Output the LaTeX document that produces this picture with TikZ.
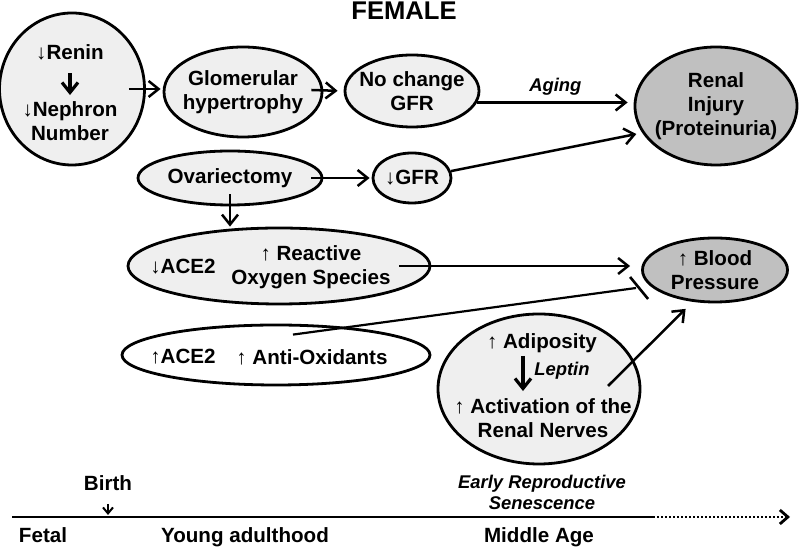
\documentclass[tikz,border=0pt]{standalone}
\usepackage{fontspec}
\setmainfont{Liberation Sans}
\usetikzlibrary{arrows.meta,shapes.geometric,calc}
\definecolor{lightfill}{HTML}{EFEFEF}
\definecolor{darkfill}{HTML}{C0C0C0}
\tikzset{every node/.style={font=\bfseries\fontsize{10.3}{12}\selectfont, align=center, inner sep=0pt},
  bubble/.style={ellipse, draw, line width=1.4pt, fill=lightfill, inner sep=0pt},
  darkbubble/.style={bubble, fill=darkfill},
  note/.style={font=\bfseries\itshape\fontsize{9.2}{10.5}\selectfont},
  stage/.style={anchor=base},
  link/.style={line width=1.25pt, -{Straight Barb[length=5pt,width=8pt]}},
  bigdown/.style={line width=1.6pt, -{Straight Barb[length=5pt,width=8pt]}},
  smalldown/.style={line width=1pt, -{Straight Barb[length=3pt,width=5pt]}},
  timeline/.style={line width=1.4pt}}

\begin{document}
\begin{tikzpicture}[x=0.5pt,y=-0.5pt]
  \useasboundingbox (0,0) rectangle (800,549);
  \node[font=\bfseries\fontsize{12.8}{14}\selectfont] (title) at (404,11) {FEMALE};

  \node[bubble, minimum width=72.5pt, minimum height=76pt] (dev) at (72,89) {};
  \node (renin) at (70,52) {↓Renin};
  \node (nephron) at (70,121) {↓Nephron\\Number};
  \draw[bigdown, shorten <=6.5pt, shorten >=3pt] (renin) -- (nephron);

  \node[bubble, minimum width=79pt, minimum height=45pt, inner xsep=-3pt] (glom) at (243,92) {Glomerular\\hypertrophy};
  \node[bubble, minimum width=67pt, minimum height=36pt, inner xsep=-4pt] (nochange) at (412,91) {No change\\GFR};
  \node[darkbubble, minimum width=81pt, minimum height=59pt, inner xsep=-3pt] (renal) at (716,106) {Renal\\Injury\\(Proteinuria)};
  \node[bubble, minimum width=92pt, minimum height=27pt] (ovx) at (230,178) {Ovariectomy};
  \node[bubble, minimum width=39pt, minimum height=25pt] (gfr) at (412,178) {↓GFR};

  \draw[link, shorten >=1pt] ($(dev.east)+(-17,0)$) -- (dev.east -| glom.west);
  \draw[link, shorten >=3pt] ($(glom.east)+(-12,-2)$) -- (nochange.west);
  \draw[link, shorten >=3pt] (nochange.-10) -- (nochange.-10 -| renal.west)
    node[note, midway, above=3pt] (aging) {Aging};
  \draw[link, shorten >=3pt] (gfr.10) -- (renal.200);
  \draw[link, shorten >=1pt] ($(ovx.east)+(-12,0)$) -- (gfr.west);

  \node[bubble, minimum width=151pt, minimum height=38pt] (ros) at (279,266) {};
  \node (aceloss) at (183,267) {↓ACE2};
  \node (oxy) at (311,267) {↑ Reactive\\Oxygen Species};
  \draw[link] ($(ovx.south)+(0,-12)$) -- (ovx.south |- ros.north);

  \node[bubble, fill=white, minimum width=154pt, minimum height=30pt] (anti) at (276,355) {};
  \node (acegain) at (183,357) {↑ACE2};
  \node (antiox) at (312,357) {↑ Anti-Oxidants};

  \node[darkbubble, minimum width=72.5pt, minimum height=32pt] (bp) at (715,270) {↑ Blood\\Pressure};
  \draw[link, shorten >=5.5pt] ($(ros.east)+(-32,0)$) -- (ros.east -| bp.west);

  \coordinate (tee) at ($(bp.west)+(-5,18)$);
  \draw[line width=1.1pt] ($(anti.north)+(17,11)$) -- (tee);
  \draw[line width=1.3pt] ($(tee)+(-6,-11)$) -- ($(tee)+(12,11)$);

  \node[bubble, minimum width=101pt, minimum height=75pt] (adip) at (539,389) {};
  \node (adipos) at (542,343) {↑ Adiposity};
  \node[note] (leptin) at (562,371) {Leptin};
  \node (nerves) at (543,418) {↑ Activation of the\\Renal Nerves};
  \draw[bigdown] ($(adipos.south)+(-19,3)$) -- ($(nerves.north)+(-20,-7)$);
  \draw[link, shorten >=5pt] ($(adip.center)+(69,-3)$) -- (bp.235);

  \coordinate (t0) at (12,517);
  \coordinate (t1) at (653,517);
  \coordinate (t2) at (790,517);
  \draw[timeline] (t0) -- (t1);
  \draw[timeline, dash pattern=on 1pt off 1pt, -{Straight Barb[length=4pt,width=7pt]}] (t1) -- (t2);

  \node (birth) at (108,483) {Birth};
  \draw[smalldown, shorten <=6.5pt, shorten >=1pt] (birth) -- (birth |- t0);
  \node[stage] (fetal) at (43,543) {Fetal};
  \node[stage] (young) at (245,543) {Young adulthood};
  \node[stage] (middle) at (539,543) {Middle Age};
  \node[note] (senes) at (542,492) {Early Reproductive\\Senescence};
\end{tikzpicture}
\end{document}
